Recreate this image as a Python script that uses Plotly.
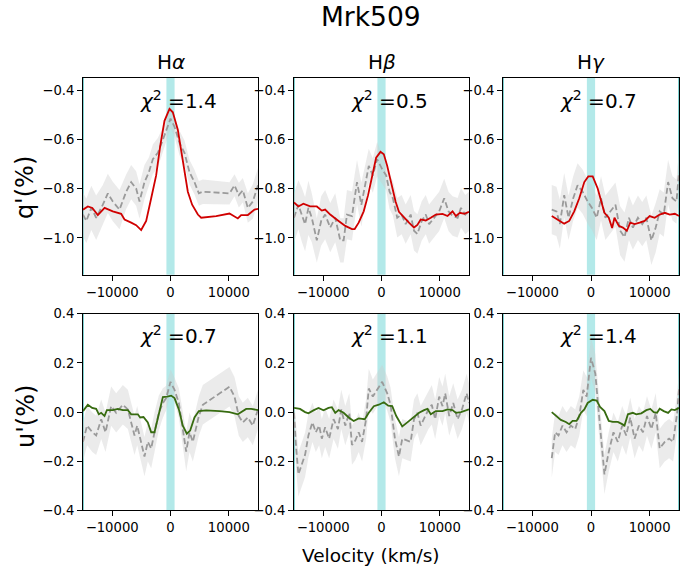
import plotly.graph_objects as go

# ---------------- data ----------------
lines = ["H<i>α</i>", "H<i>β</i>", "H<i>γ</i>"]
chi2_q = ["1.4", "0.5", "0.7"]
chi2_u = ["0.7", "1.1", "1.4"]

# q' observed (velocity, value, error) and model
ha_q_v = [-15000,-14430,-13570,-12740,-11600,-10740,-9890,-8740,-7600,-6740,-5890,-5310,-4460,-3710,-3030,-2170,-1310,-740,0,690,1540,2400,3260,4110,4860,5540,10110,10970,11710,12400,13260,14110,15000]
ha_q = [-0.905,-0.931,-0.878,-0.918,-0.865,-0.819,-0.852,-0.885,-0.812,-0.773,-0.799,-0.852,-0.773,-0.733,-0.680,-0.654,-0.601,-0.561,-0.515,-0.548,-0.614,-0.654,-0.733,-0.773,-0.819,-0.812,-0.819,-0.786,-0.826,-0.806,-0.878,-0.852,-0.786]
ha_q_err = [0.09,0.09,0.09,0.09,0.08,0.08,0.08,0.08,0.07,0.07,0.07,0.07,0.07,0.06,0.06,0.06,0.05,0.05,0.04,0.04,0.05,0.05,0.05,0.05,0.05,0.05,0.045,0.045,0.05,0.05,0.06,0.07,0.07]
ha_qm_v = [-15000,-14170,-13400,-12460,-11300,-9890,-8460,-7880,-6740,-5890,-5030,-4170,-3310,-2460,-1770,-1030,-170,400,1260,2110,2970,3710,4690,5260,7830,10110,10970,11540,12110,13260,14400,15000]
ha_qm = [-0.885,-0.872,-0.878,-0.907,-0.878,-0.892,-0.902,-0.925,-0.938,-0.948,-0.968,-0.931,-0.839,-0.746,-0.627,-0.524,-0.475,-0.489,-0.561,-0.693,-0.812,-0.865,-0.905,-0.918,-0.911,-0.901,-0.915,-0.921,-0.907,-0.907,-0.885,-0.882]

hb_q_v = [-15000,-14250,-13680,-13100,-12530,-11950,-11090,-10340,-9660,-8790,-7930,-7070,-6490,-5920,-5060,-4200,-3450,-2870,-2180,-1490,-750,110,800,1380,1950,2700,3450,4140,5000,5570,6150,6900,7590,8160,9020,9890,10750,11490,12180,13050,13620,14370,15000]
hb_q = [-0.918,-0.865,-0.905,-0.944,-0.878,-0.918,-1.010,-0.931,-0.905,-0.958,-0.918,-1.010,-1.010,-0.905,-0.911,-0.773,-0.865,-0.786,-0.707,-0.746,-0.680,-0.720,-0.746,-0.812,-0.839,-0.918,-0.905,-0.944,-0.905,-0.971,-0.984,-0.931,-0.905,-0.944,-0.918,-0.892,-0.839,-0.892,-0.911,-0.918,-0.878,-0.905,-0.892]
hb_q_err = [0.10,0.10,0.11,0.11,0.11,0.10,0.09,0.10,0.10,0.10,0.10,0.09,0.09,0.10,0.10,0.09,0.09,0.08,0.07,0.07,0.07,0.06,0.06,0.07,0.07,0.08,0.08,0.08,0.08,0.08,0.08,0.08,0.08,0.08,0.08,0.08,0.08,0.08,0.08,0.08,0.08,0.08,0.08]
hb_qm_v = [-15000,-14250,-13390,-12240,-11090,-10230,-9660,-8790,-7360,-6210,-5060,-4600,-3910,-3050,-2300,-1610,-920,-170,400,980,1720,2410,2990,3850,4710,5570,6150,6720,7590,8450,9310,10460,11320,12180,12760,13450,14200,15000]
hb_qm = [-0.856,-0.872,-0.861,-0.872,-0.872,-0.889,-0.885,-0.905,-0.931,-0.951,-0.964,-0.964,-0.938,-0.892,-0.826,-0.746,-0.674,-0.650,-0.660,-0.707,-0.786,-0.852,-0.894,-0.918,-0.938,-0.958,-0.947,-0.925,-0.929,-0.918,-0.905,-0.902,-0.911,-0.892,-0.911,-0.898,-0.902,-0.894]

hg_q_v = [-6690,-5890,-5310,-4570,-3830,-3030,-2290,-1430,-570,170,970,1710,2460,3260,4170,4970,5710,6460,7140,8000,8740,9430,10290,11030,11710,12400,13140,13890,14570,15000]
hg_q = [-0.885,-0.892,-0.944,-0.826,-0.918,-0.839,-0.786,-0.812,-0.852,-0.878,-0.918,-0.839,-0.918,-0.892,-0.865,-0.971,-0.997,-0.918,-0.958,-0.918,-0.944,-0.918,-1.010,-0.958,-0.892,-0.905,-0.773,-0.839,-0.852,-0.733]
hg_q_err = [0.10,0.10,0.10,0.09,0.09,0.09,0.09,0.09,0.09,0.09,0.09,0.09,0.09,0.09,0.09,0.10,0.10,0.09,0.09,0.09,0.09,0.09,0.10,0.10,0.09,0.09,0.09,0.09,0.09,0.09]
hg_qm_v = [-6690,-5710,-4570,-3710,-2860,-2000,-1140,-460,290,1140,1710,2290,3030,3600,4000,4740,5430,6110,6690,7430,8290,9140,10000,10860,11710,12570,13430,14290,15000]
hg_qm = [-0.911,-0.925,-0.942,-0.931,-0.892,-0.839,-0.773,-0.750,-0.750,-0.799,-0.852,-0.898,-0.918,-0.960,-0.918,-0.951,-0.958,-0.971,-0.938,-0.944,-0.938,-0.931,-0.911,-0.918,-0.905,-0.898,-0.905,-0.902,-0.911]

# u' observed and model
ha_u_v = [-15000,-14300,-13400,-12740,-11880,-11140,-10170,-9310,-8170,-7310,-6740,-6170,-5710,-5030,-4460,-3890,-3310,-2740,-2000,-1310,-740,0,690,1430,2110,2690,3260,3830,4860,5540,10110,10970,11710,12400,13260,14110,15000]
ha_u = [-0.121,-0.055,-0.082,-0.095,-0.029,-0.082,0.024,-0.003,0.030,0.011,-0.042,-0.095,-0.055,-0.121,-0.181,-0.121,-0.148,-0.082,-0.003,0.037,0.057,0.123,0.090,0.037,-0.069,-0.161,-0.082,-0.121,-0.016,0.030,0.103,0.063,-0.016,-0.042,-0.022,-0.055,0.011]
ha_u_err = [0.08,0.08,0.08,0.08,0.08,0.08,0.08,0.08,0.08,0.08,0.08,0.08,0.08,0.08,0.08,0.08,0.08,0.08,0.07,0.06,0.05,0.05,0.05,0.06,0.07,0.08,0.08,0.08,0.08,0.08,0.08,0.08,0.08,0.08,0.08,0.08,0.08]
ha_um_v = [-15000,-14170,-13430,-12740,-12280,-11880,-11310,-10910,-9890,-9030,-8170,-7310,-6740,-5600,-5200,-4630,-3890,-3310,-2740,-2000,-1310,-570,110,690,1430,2110,2800,3370,4110,4860,6110,8400,10110,11540,12970,13830,15000]
ha_um = [0.004,0.030,0.017,0.013,-0.009,-0.003,-0.016,0.008,0.008,0.013,0.008,0.008,-0.009,-0.009,-0.022,-0.020,-0.042,-0.082,-0.082,-0.003,0.061,0.063,0.067,0.057,0.011,-0.055,-0.088,-0.075,-0.022,0.004,0.007,0.004,0.000,-0.009,0.013,0.013,0.008]

hb_u_v = [-15000,-14710,-14250,-13680,-13100,-12530,-11840,-11260,-10690,-10230,-9660,-8970,-8220,-7470,-6900,-6210,-5520,-5060,-4480,-3910,-3330,-2640,-2180,-1490,-750,110,980,1550,2300,2990,3560,4250,5000,5570,6150,6720,7300,8050,8620,9200,9890,10460,10920,11610,12300,13050,13790,14600,15000]
hb_u = [-0.003,-0.121,-0.253,-0.214,-0.174,-0.095,-0.042,-0.082,-0.055,-0.108,-0.062,-0.108,-0.029,-0.069,0.011,-0.055,-0.003,-0.134,-0.115,-0.082,-0.121,-0.029,0.096,0.063,0.090,0.123,0.076,0.030,-0.108,-0.181,-0.108,-0.115,-0.121,-0.029,-0.003,-0.055,-0.029,0.011,0.030,-0.029,0.063,0.024,0.076,-0.016,0.037,-0.029,0.011,0.076,0.037]
hb_u_err = [0.09,0.09,0.09,0.09,0.09,0.09,0.08,0.08,0.08,0.08,0.08,0.08,0.08,0.08,0.08,0.08,0.08,0.08,0.08,0.08,0.08,0.08,0.08,0.07,0.07,0.07,0.07,0.07,0.08,0.08,0.08,0.08,0.08,0.08,0.08,0.08,0.08,0.08,0.08,0.08,0.08,0.08,0.08,0.08,0.08,0.08,0.08,0.08,0.08]
hb_um_v = [-15000,-13970,-13100,-12530,-11670,-10800,-9940,-9080,-8510,-7930,-7360,-6490,-5630,-4770,-3910,-2870,-2180,-1320,-460,400,1150,1840,2530,3560,4430,5290,6440,7300,7870,8450,9310,10460,11320,12180,12760,13620,15000]
hb_um = [0.017,0.013,0.000,-0.005,0.007,0.017,0.007,0.017,0.020,-0.003,0.008,-0.003,-0.022,-0.036,-0.026,-0.029,-0.003,0.024,0.030,0.040,0.026,0.024,-0.016,-0.058,-0.042,-0.026,-0.003,0.008,0.013,-0.009,0.004,0.004,0.011,0.008,-0.003,0.000,0.011]

hg_u_v = [-6690,-6110,-5540,-4860,-4170,-3430,-2690,-2000,-1310,-740,0,740,1430,2290,3030,3830,4570,5310,6000,6690,7430,8170,8860,9540,10290,11030,11710,12570,13310,14000,14690,15030]
hg_u = [-0.187,-0.082,-0.095,-0.055,-0.082,-0.055,-0.069,-0.016,0.090,0.063,0.221,0.156,-0.029,-0.253,-0.161,-0.082,-0.121,-0.055,-0.095,-0.022,-0.108,-0.055,-0.082,-0.016,-0.069,-0.003,-0.148,-0.121,-0.108,-0.121,-0.003,0.103]
hg_u_err = [0.08,0.08,0.08,0.08,0.08,0.08,0.08,0.08,0.08,0.08,0.08,0.08,0.08,0.08,0.08,0.08,0.08,0.08,0.08,0.08,0.08,0.08,0.08,0.08,0.08,0.08,0.08,0.08,0.08,0.08,0.08,0.08]
hg_um_v = [-6690,-5890,-5140,-4290,-3710,-3140,-2460,-1710,-1140,-570,290,970,1540,2290,3030,3710,4570,5310,5710,6290,7140,7710,8570,9430,10110,10690,11260,11710,12400,13140,13710,14290,15000]
hg_um = [0.000,-0.016,-0.032,-0.040,-0.049,-0.036,-0.036,-0.003,0.011,0.037,0.050,0.047,0.021,0.004,-0.036,-0.040,-0.040,-0.049,-0.055,-0.009,-0.003,-0.009,-0.005,0.008,0.013,0.000,-0.003,0.014,0.004,-0.003,0.011,0.008,0.017]

x_ticks = [-10000, 0, 10000]
q_ticks = [-1.0, -0.8, -0.6, -0.4]
u_ticks = [-0.4, -0.2, 0.0, 0.2, 0.4]
x_range = [-15000, 15000]
q_range = [-1.15, -0.35]
u_range = [-0.4, 0.4]
band_half = 700

# ---------------- layout helpers ----------------
W, H = 696, 572
FONT = "DejaVu Sans"
TICK = 13.2
col_px = [(83, 258), (294, 469), (503, 679)]
row_px = [(73, 275), (315, 517)]

panels = [
    (ha_q_v, ha_q, ha_q_err, ha_qm_v, ha_qm, "#d00000", chi2_q[0]),
    (hb_q_v, hb_q, hb_q_err, hb_qm_v, hb_qm, "#d00000", chi2_q[1]),
    (hg_q_v, hg_q, hg_q_err, hg_qm_v, hg_qm, "#d00000", chi2_q[2]),
    (ha_u_v, ha_u, ha_u_err, ha_um_v, ha_um, "#376b10", chi2_u[0]),
    (hb_u_v, hb_u, hb_u_err, hb_um_v, hb_um, "#376b10", chi2_u[1]),
    (hg_u_v, hg_u, hg_u_err, hg_um_v, hg_um, "#376b10", chi2_u[2]),
]

fig = go.Figure()
layout = dict(
    width=W, height=H, margin=dict(l=0, r=0, t=0, b=0),
    paper_bgcolor="white", plot_bgcolor="white", showlegend=False,
    font=dict(family=FONT, color="black", size=TICK),
)
shapes = []
annotations = []

for i, (ov, oval, oerr, mv, mval, col, chi) in enumerate(panels):
    r, c = divmod(i, 3)
    n = i + 1
    xa = "x" if n == 1 else f"x{n}"
    ya = "y" if n == 1 else f"y{n}"
    x0, x1 = col_px[c]
    y0, y1 = row_px[r]
    layout[f"xaxis{'' if n == 1 else n}"] = dict(
        domain=[x0 / W, x1 / W], anchor=ya, range=x_range,
        tickvals=x_ticks, tickformat="d", ticks="outside", ticklen=5,
        tickcolor="black", showline=True, linecolor="black", linewidth=1,
        mirror=True, showgrid=False, zeroline=False,
        tickfont=dict(family=FONT, size=TICK),
    )
    layout[f"yaxis{'' if n == 1 else n}"] = dict(
        domain=[1 - y1 / H, 1 - y0 / H], anchor=xa,
        range=q_range if r == 0 else u_range,
        tickvals=q_ticks if r == 0 else u_ticks, tickformat=".1f",
        ticks="outside", ticklen=5, tickcolor="black", showline=True,
        linecolor="black", linewidth=1, mirror=True, showgrid=False,
        zeroline=False, tickfont=dict(family=FONT, size=TICK),
    )
    # cyan band at line centre and thin band at left edge
    shapes.append(dict(type="rect", xref=xa, yref=f"{ya} domain",
                       x0=-band_half, x1=band_half, y0=0, y1=1,
                       fillcolor="#b3e9e9", line=dict(width=0), layer="below"))
    shapes.append(dict(type="rect", xref=xa, yref=f"{ya} domain",
                       x0=-15000, x1=-14830, y0=0, y1=1,
                       fillcolor="#7fd3d3", line=dict(width=0), layer="below"))
    if c == 2:
        shapes.append(dict(type="rect", xref=xa, yref=f"{ya} domain",
                           x0=14830, x1=15000, y0=0, y1=1,
                           fillcolor="#7fd3d3", line=dict(width=0), layer="below"))
    lo = [v - e for v, e in zip(oval, oerr)]
    hi = [v + e for v, e in zip(oval, oerr)]
    fig.add_trace(go.Scatter(x=ov, y=lo, mode="lines", line=dict(width=0),
                             xaxis=xa, yaxis=ya, hoverinfo="skip"))
    fig.add_trace(go.Scatter(x=ov, y=hi, mode="lines", line=dict(width=0),
                             fill="tonexty", fillcolor="rgba(205,205,205,0.40)",
                             xaxis=xa, yaxis=ya, hoverinfo="skip"))
    fig.add_trace(go.Scatter(x=ov, y=oval, mode="lines",
                             line=dict(color="#9a9a9a", width=1.8, dash="6px,3px"),
                             xaxis=xa, yaxis=ya))
    fig.add_trace(go.Scatter(x=mv, y=mval, mode="lines",
                             line=dict(color=col, width=1.8),
                             xaxis=xa, yaxis=ya))
    annotations.append(dict(
        text=f"<i>χ</i><sup>2</sup> =" + chi, xref=f"{xa} domain", yref=f"{ya} domain",
        x=0.545, y=0.89, showarrow=False, xanchor="center", yanchor="middle",
        font=dict(family=FONT, size=20, color="black")))
    if r == 0:
        annotations.append(dict(
            text=lines[c], xref="paper", yref="paper",
            x=(x0 + x1) / 2 / W, y=1 - 56 / H, showarrow=False,
            xanchor="center", yanchor="middle",
            font=dict(family=FONT, size=20, color="black")))

annotations.append(dict(text="Mrk509", xref="paper", yref="paper",
                        x=371 / W, y=1 - 10 / H, showarrow=False,
                        xanchor="center", yanchor="middle",
                        font=dict(family=FONT, size=26.5, color="black")))
annotations.append(dict(text="q'(%)", xref="paper", yref="paper",
                        x=25 / W, y=1 - 186 / H, showarrow=False, textangle=-90,
                        xanchor="center", yanchor="middle",
                        font=dict(family=FONT, size=24, color="black")))
annotations.append(dict(text="u'(%)", xref="paper", yref="paper",
                        x=26 / W, y=1 - 421 / H, showarrow=False, textangle=-90,
                        xanchor="center", yanchor="middle",
                        font=dict(family=FONT, size=24, color="black")))
annotations.append(dict(text="Velocity (km/s)", xref="paper", yref="paper",
                        x=371 / W, y=1 - 563 / H, showarrow=False,
                        xanchor="center", yanchor="middle",
                        font=dict(family=FONT, size=18.5, color="black")))

layout["shapes"] = shapes
layout["annotations"] = annotations
fig.update_layout(**layout)
fig.write_html("out.html")
